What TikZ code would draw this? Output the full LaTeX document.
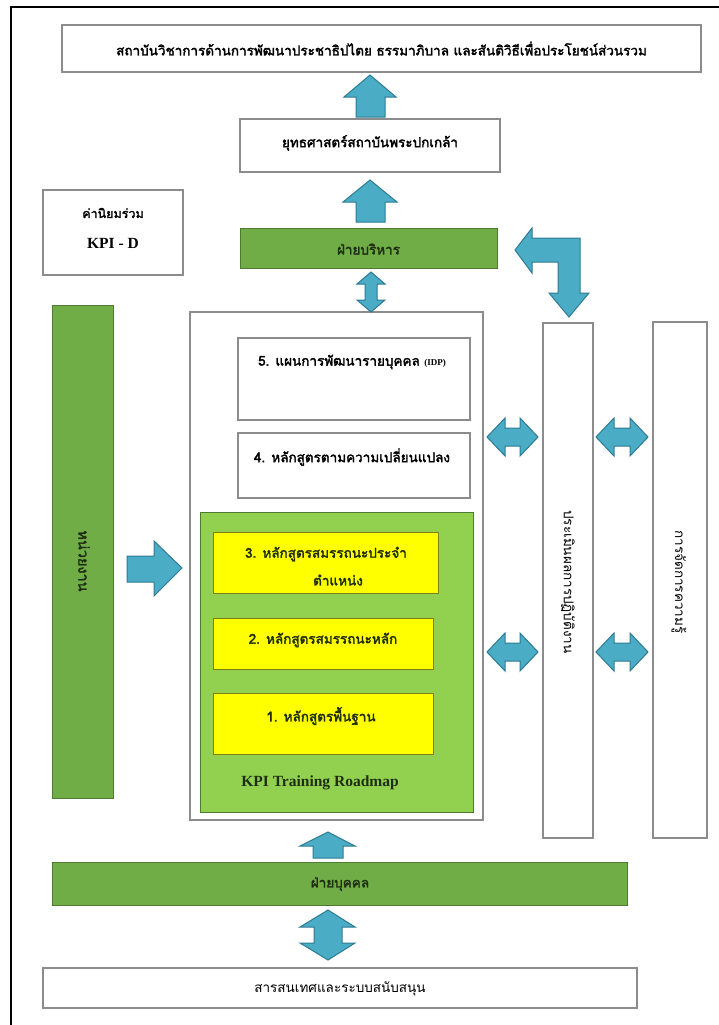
\documentclass[tikz,border=0pt]{standalone}
\usepackage{fontspec}
\setmainfont{Liberation Serif}
\newfontfamily\thai[Script=Thai, AutoFakeBold=2.2]{Loma}
\definecolor{boxgray}{HTML}{8C8C8C}
\definecolor{gmid}{HTML}{70AD47}
\definecolor{gdark}{HTML}{4E7A31}
\definecolor{glight}{HTML}{92D050}
\definecolor{ylw}{HTML}{FFFF00}
\definecolor{ydark}{HTML}{7F7F1A}
\definecolor{ablue}{HTML}{4BACC6}
\definecolor{adark}{HTML}{2C7B94}
\definecolor{txtg}{HTML}{1F2E12}
\begin{document}
\begin{tikzpicture}[x=1pt,y=-1pt,
  box/.style={draw=boxgray, line width=1.3pt, fill=white, inner sep=0pt},
  gbar/.style={draw=gdark, fill=gmid, line width=1pt, inner sep=0pt},
  lgbox/.style={draw=gdark, fill=glight, line width=1pt, inner sep=0pt},
  ybox/.style={draw=ydark, fill=ylw, line width=1pt, inner sep=0pt},
  barrow/.style={draw=adark, fill=ablue, line width=1pt, line join=miter},
  th/.style={font=\thai\bfseries\fontsize{13.5}{15}\selectfont, text=black, inner sep=0pt},
  thg/.style={font=\thai\bfseries\fontsize{13.5}{15}\selectfont, text=txtg, inner sep=0pt},
  thr/.style={font=\thai\fontsize{13.5}{15}\selectfont, text=black, inner sep=0pt},
  lat/.style={font=\bfseries\fontsize{15.5}{17}\selectfont, inner sep=0pt}]
\useasboundingbox (0,0) rectangle (719,1025);
% outer frame (left and top)
\draw[line width=2pt] (11,1025) -- (11,7) -- (719,7);

% boxes
\node[box, minimum width=639pt, minimum height=47pt] (top) at (381.5,48.5) {};
\node[th] at (381.5,48.5) {สถาบันวิชาการด้านการพัฒนาประชาธิปไตย ธรรมาภิบาล และสันติวิธีเพื่อประโยชน์ส่วนรวม};

\node[box, minimum width=260pt, minimum height=53pt] (strat) at (370,145.5) {};
\node[th] at (370,143) {ยุทธศาสตร์สถาบันพระปกเกล้า};

\node[box, minimum width=140pt, minimum height=85pt] (val) at (113,232.5) {};
\node[th, font=\thai\bfseries\fontsize{12.5}{14}\selectfont] at (113,213) {ค่านิยมร่วม};
\node[lat] at (113,243) {KPI - D};

\node[gbar, minimum width=257pt, minimum height=40pt] (exec) at (368.5,248.5) {};
\node[thg] at (368.5,249) {ฝ่ายบริหาร};

\node[box, minimum width=293pt, minimum height=508pt] (main) at (336.5,566) {};
\node[box, minimum width=232pt, minimum height=82pt] (b5) at (354,379) {};
\node[th] at (352,362) {5. แผนการพัฒนารายบุคคล {\rmfamily\bfseries\fontsize{9}{10}\selectfont(IDP)}};
\node[box, minimum width=232pt, minimum height=65pt] (b4) at (354,465.5) {};
\node[th] at (352,457) {4. หลักสูตรตามความเปลี่ยนแปลง};

\node[lgbox, minimum width=273pt, minimum height=300pt] (road) at (336.5,662) {};
\node[ybox, minimum width=225pt, minimum height=61pt] (y3) at (325.5,563) {};
\node[thg] at (326,554) {3. หลักสูตรสมรรถนะประจำ};
\node[thg] at (338,580) {ตำแหน่ง};
\node[ybox, minimum width=220pt, minimum height=51pt] (y2) at (323,643.5) {};
\node[thg] at (323,640) {2. หลักสูตรสมรรถนะหลัก};
\node[ybox, minimum width=220pt, minimum height=61pt] (y1) at (323,723.5) {};
\node[thg] at (321,716) {1. หลักสูตรพื้นฐาน};
\node[lat, text=txtg] at (320,783) {KPI Training Roadmap};

\node[gbar, minimum width=61pt, minimum height=493pt] (unit) at (82.5,551.5) {};
\node[thg, font=\thai\bfseries\fontsize{14.5}{16}\selectfont, rotate=-90] at (84,561) {หน่วยงาน};

\node[box, minimum width=50pt, minimum height=515pt] (eval) at (568,580.5) {};
\node[thr, rotate=-90] at (568,582) {ประเมินผลการปฏิบัติงาน};
\node[box, minimum width=54pt, minimum height=516pt] (km) at (680,580) {};
\node[thr, rotate=-90] at (679,582) {การจัดการความรู้};

\node[gbar, minimum width=575pt, minimum height=43pt] (hr) at (339.5,883.5) {};
\node[thg] at (340,884) {ฝ่ายบุคคล};

\node[box, minimum width=594pt, minimum height=40pt] (info) at (340,988) {};
\node[thr] at (340,989) {สารสนเทศและระบบสนับสนุน};

% block arrows
% up arrows
\draw[barrow] (370,75) -- (396,97) -- (385,97) -- (385,117) -- (356,117) -- (356,97) -- (344,97) -- cycle;
\draw[barrow] (370,180) -- (397,202) -- (385,202) -- (385,222) -- (356,222) -- (356,202) -- (343,202) -- cycle;
\draw[barrow] (328,832) -- (355,846) -- (343,846) -- (343,858) -- (313,858) -- (313,846) -- (300,846) -- cycle;
% vertical double arrows
\draw[barrow] (371,272) -- (385,284) -- (377,284) -- (377,300) -- (385,300) -- (371,312) -- (357,300) -- (365,300) -- (365,284) -- (357,284) -- cycle;
\draw[barrow] (328,910) -- (355,927) -- (342,927) -- (342,943) -- (355,943) -- (328,960) -- (300,943) -- (314,943) -- (314,927) -- (300,927) -- cycle;
% right arrow
\draw[barrow] (182,568) -- (154,596) -- (154,582) -- (127,582) -- (127,556) -- (154,556) -- (154,541) -- cycle;
% horizontal double arrows
\foreach \cy in {437,652}{
  \draw[barrow] (487,\cy) -- (505,\cy-19) -- (505,\cy-9) -- (520,\cy-9) -- (520,\cy-19) -- (538,\cy) -- (520,\cy+19) -- (520,\cy+9) -- (505,\cy+9) -- (505,\cy+19) -- cycle;
  \draw[barrow] (596,\cy) -- (614,\cy-19) -- (614,\cy-9) -- (630,\cy-9) -- (630,\cy-19) -- (648,\cy) -- (630,\cy+19) -- (630,\cy+9) -- (614,\cy+9) -- (614,\cy+19) -- cycle;
}
% bent double arrow
\draw[barrow] (515,250) -- (532,228) -- (532,238) -- (580,238) -- (580,293) -- (589,293) -- (569,317) -- (549,293) -- (558,293) -- (558,262) -- (532,262) -- (532,273) -- cycle;
\end{tikzpicture}
\end{document}
